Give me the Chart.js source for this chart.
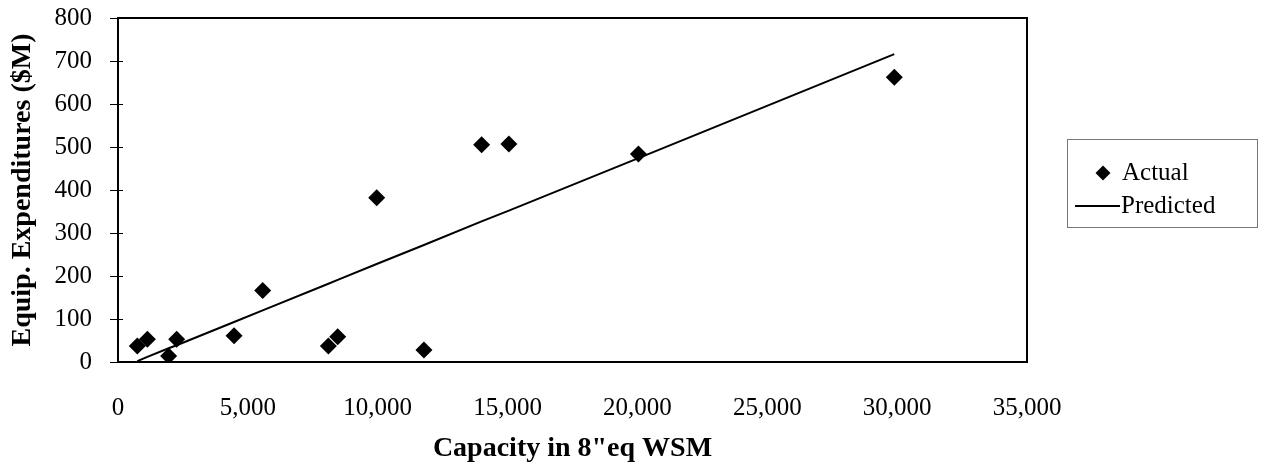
<!DOCTYPE html>
<html>
<head>
<meta charset="utf-8">
<title>Equipment expenditures vs capacity</title>
<script src="https://cdn.jsdelivr.net/npm/chart.js@4/dist/chart.umd.min.js"></script>
<style>
  body { margin: 0; background: #fff; }
  #chartContainer { width: 1264px; height: 474px; }
</style>
</head>
<body>
<div id="chartContainer"><canvas id="capacityChart"></canvas></div>
<script>
// capacity (8"eq WSM) and equipment expenditures ($M) per fab
const capacity = [743, 1130, 1950, 2260, 4470, 5570, 8100, 8460, 9960, 11780, 14000, 15050, 20040, 29890];
const actualSpend = [37, 53, 14, 53, 61, 166, 37, 59, 382, 28, 505, 507, 484, 662];
// regression line as read at the same capacities
const predictedSpend = [2, 12, 32, 39, 93, 120, 182, 191, 228, 272, 327, 352, 474, 716];

const xTicks = [0, 5000, 10000, 15000, 20000, 25000, 30000, 35000];
const yTicks = [0, 100, 200, 300, 400, 500, 600, 700, 800];
const legendLabels = ['Actual', 'Predicted'];

const serif = 'Liberation Serif';

function toPoints(xs, ys) {
    return xs.map((x, i) => ({ x: x, y: ys[i] }));
}

// frame around the plot area plus the inner half of the y tick marks
const plotFrame = {
    id: 'plotFrame',
    afterDraw(chart) {
        const { ctx, chartArea } = chart;
        const yScale = chart.scales.y;
        ctx.save();
        ctx.strokeStyle = '#000';
        ctx.lineWidth = 2;
        ctx.strokeRect(chartArea.left, chartArea.top, chartArea.right - chartArea.left, chartArea.bottom - chartArea.top);
        ctx.lineWidth = 1;
        yTicks.forEach(v => {
            const py = Math.round(yScale.getPixelForValue(v)) + 0.5;
            ctx.beginPath();
            ctx.moveTo(chartArea.left, py);
            ctx.lineTo(chartArea.left + 5, py);
            ctx.stroke();
        });
        ctx.restore();
    }
};

// boxed legend to the right of the plot
const boxedLegend = {
    id: 'boxedLegend',
    afterDraw(chart) {
        const { ctx } = chart;
        const left = 1067, top = 139, right = 1257, bottom = 227;
        ctx.save();
        ctx.strokeStyle = '#777';
        ctx.lineWidth = 1;
        ctx.strokeRect(left + 0.5, top + 0.5, right - left, bottom - top);

        const rowActual = 173, rowPredicted = 206;
        // diamond marker
        const r = 7.5, cx = 1103;
        ctx.fillStyle = '#000';
        ctx.beginPath();
        ctx.moveTo(cx - r, rowActual);
        ctx.lineTo(cx, rowActual - r);
        ctx.lineTo(cx + r, rowActual);
        ctx.lineTo(cx, rowActual + r);
        ctx.closePath();
        ctx.fill();
        // line sample
        ctx.strokeStyle = '#000';
        ctx.lineWidth = 2;
        ctx.beginPath();
        ctx.moveTo(1075, rowPredicted);
        ctx.lineTo(1120, rowPredicted);
        ctx.stroke();

        ctx.font = '25px "' + serif + '"';
        ctx.textBaseline = 'middle';
        ctx.textAlign = 'left';
        ctx.fillText(legendLabels[0], 1122, rowActual);
        ctx.fillText(legendLabels[1], 1121, rowPredicted);
        ctx.restore();
    }
};

const ctx = document.getElementById('capacityChart').getContext('2d');
window.capacityChart = new Chart(ctx, {
    type: 'scatter',
    data: {
        datasets: [{
            label: legendLabels[0],
            data: toPoints(capacity, actualSpend),
            pointStyle: 'rectRot',
            pointRadius: 8.5,
            pointHoverRadius: 8.5,
            backgroundColor: '#000',
            borderWidth: 0,
            showLine: false
        }, {
            label: legendLabels[1],
            data: toPoints(capacity, predictedSpend),
            showLine: true,
            borderColor: '#000',
            borderWidth: 2,
            pointRadius: 0,
            tension: 0
        }]
    },
    options: {
        responsive: true,
        maintainAspectRatio: false,
        animation: false,
        devicePixelRatio: 1,
        layout: {
            padding: { top: 0, right: 237, left: 0, bottom: 0 }
        },
        plugins: {
            legend: { display: false },
            tooltip: { enabled: false }
        },
        scales: {
            x: {
                type: 'linear',
                min: 0,
                max: 35000,
                afterFit(scale) { scale.height = 112; },
                afterBuildTicks(scale) { scale.ticks = xTicks.map(v => ({ value: v })); },
                grid: { display: false },
                border: { display: true, color: '#000', width: 2 },
                ticks: {
                    color: '#000',
                    padding: 23,
                    maxRotation: 0,
                    font: { family: serif, size: 25 },
                    callback: v => v.toLocaleString('en-US')
                },
                title: {
                    display: true,
                    text: 'Capacity in 8"eq WSM',
                    color: '#000',
                    font: { family: serif, size: 28, weight: 'bold' },
                    padding: { top: 0, bottom: 8 }
                }
            },
            y: {
                type: 'linear',
                min: 0,
                max: 800,
                afterFit(scale) {
                    // fixed gutter for the labels, top of plot at 18px
                    scale.width = 118;
                    scale.paddingTop = 18;
                    scale.paddingBottom = 18;
                },
                afterBuildTicks(scale) { scale.ticks = yTicks.map(v => ({ value: v })); },
                grid: {
                    display: true,
                    drawOnChartArea: false,
                    drawTicks: true,
                    tickLength: 8,
                    color: '#000'
                },
                border: { display: true, color: '#000', width: 2 },
                ticks: {
                    color: '#000',
                    padding: 18,
                    font: { family: serif, size: 25 }
                },
                title: {
                    display: true,
                    text: 'Equip. Expenditures ($M)',
                    color: '#000',
                    font: { family: serif, size: 28, weight: 'bold' },
                    padding: { top: 6, bottom: 0 }
                }
            }
        }
    },
    plugins: [plotFrame, boxedLegend]
});
</script>
</body>
</html>
